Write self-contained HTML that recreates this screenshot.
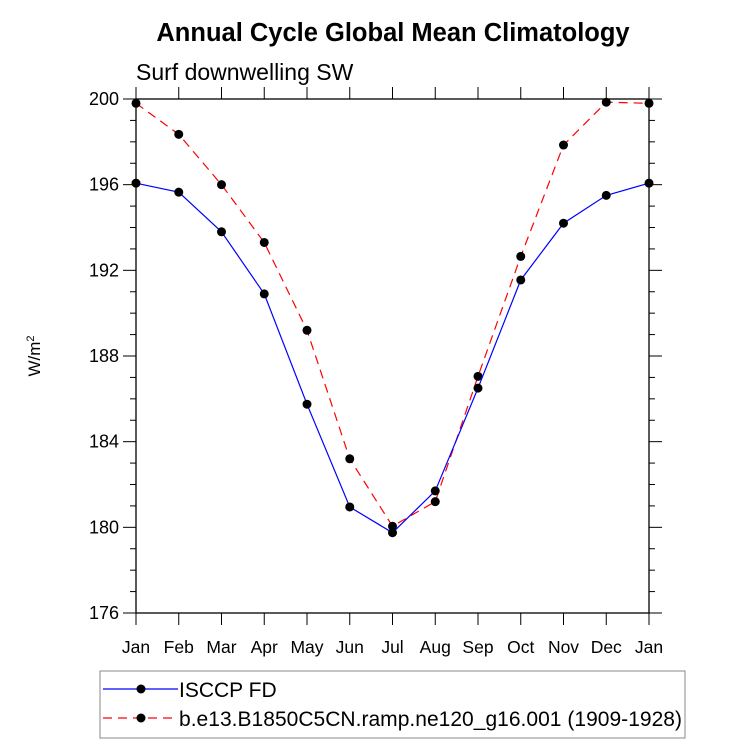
<!DOCTYPE html>
<html><head><meta charset="utf-8"><style>
body{margin:0;background:#fff;font-family:"Liberation Sans",sans-serif}
</style></head><body>
<svg id="chart" width="733" height="746" xmlns="http://www.w3.org/2000/svg" font-family="Liberation Sans, sans-serif">
<rect width="733" height="746" fill="#fff"/>
<text x="393" y="41" text-anchor="middle" font-size="25.5" font-weight="bold">Annual Cycle Global Mean Climatology</text>
<text x="136" y="80" font-size="23">Surf downwelling SW</text>
<text transform="translate(40,356) rotate(-90)" text-anchor="middle" font-size="17">W/m<tspan dy="-6" font-size="11">2</tspan></text>
<g id="axes"></g>
<g id="series"></g>
<g>
<rect x="100" y="671" width="585" height="67" fill="none" stroke="#888" stroke-width="1"/>
<line x1="103" y1="689" x2="178" y2="689" stroke="#0000ff" stroke-width="1.2"/>
<circle cx="141" cy="689" r="4.5" fill="#000"/>
<text x="179" y="697" font-size="21">ISCCP FD</text>
<line x1="103" y1="718" x2="178" y2="718" stroke="#ff0000" stroke-width="1.2" stroke-dasharray="9,6"/>
<circle cx="141" cy="718" r="4.5" fill="#000"/>
<text x="179" y="726" font-size="21" textLength="503">b.e13.B1850C5CN.ramp.ne120_g16.001 (1909-1928)</text>
</g>
</svg>
<script>
const months=["Jan","Feb","Mar","Apr","May","Jun","Jul","Aug","Sep","Oct","Nov","Dec","Jan"];
const isccp=[196.07,195.65,193.8,190.9,185.75,180.95,179.75,181.7,186.5,191.55,194.2,195.5,196.07];
const model=[199.8,198.35,196.0,193.3,189.2,183.2,180.05,181.2,187.05,192.65,197.85,199.85,199.8];
const yTicks=[176,180,184,188,192,196,200];
const X0=136,X1=649,Y0=613,Y1=99,YMIN=176,YMAX=200;
const xs=i=>X0+(X1-X0)*i/(months.length-1);
const ys=v=>Y0-(Y0-Y1)*(v-YMIN)/(YMAX-YMIN);
const NS="http://www.w3.org/2000/svg";
function mk(t,a,p){const e=document.createElementNS(NS,t);for(const k in a)e.setAttribute(k,a[k]);p.appendChild(e);return e;}
const ax=document.getElementById('axes');
const frame=mk('rect',{x:X0,y:Y1,width:X1-X0,height:Y0-Y1,fill:'none',stroke:'#000','stroke-width':1.3},ax);


for(let v=YMIN;v<=YMAX;v++){const y=ys(v);const maj=(v%4===0);const L=maj?13:6;
mk('line',{x1:X0-L,y1:y,x2:X0,y2:y,stroke:'#000','stroke-width':1},ax);
mk('line',{x1:X1,y1:y,x2:X1+L,y2:y,stroke:'#000','stroke-width':1},ax);}
yTicks.forEach(v=>{const t=mk('text',{x:X0-17,y:ys(v)+6,'text-anchor':'end','font-size':18},ax);t.textContent=v;

});
months.forEach((m,i)=>{const x=xs(i);
mk('line',{x1:x,y1:Y0,x2:x,y2:Y0+12,stroke:'#000','stroke-width':1},ax);
mk('line',{x1:x,y1:Y1-12,x2:x,y2:Y1,stroke:'#000','stroke-width':1},ax);
const t=mk('text',{x:x,y:Y0+40,'text-anchor':'middle','font-size':17.5},ax);t.textContent=m;

});
const sg=document.getElementById('series');
function series(vals,color,dash,name){
const pts=vals.map((v,i)=>xs(i)+','+ys(v)).join(' ');
const pl=mk('polyline',{points:pts,fill:'none',stroke:color,'stroke-width':1.2,'stroke-dasharray':dash},sg);


vals.forEach((v,i)=>{const c=mk('circle',{cx:xs(i),cy:ys(v),r:4.5,fill:'#000'},sg);

});}
series(model,'#ff0000','9,6','model');
series(isccp,'#0000ff','none','isccp');
</script>
</body></html>
